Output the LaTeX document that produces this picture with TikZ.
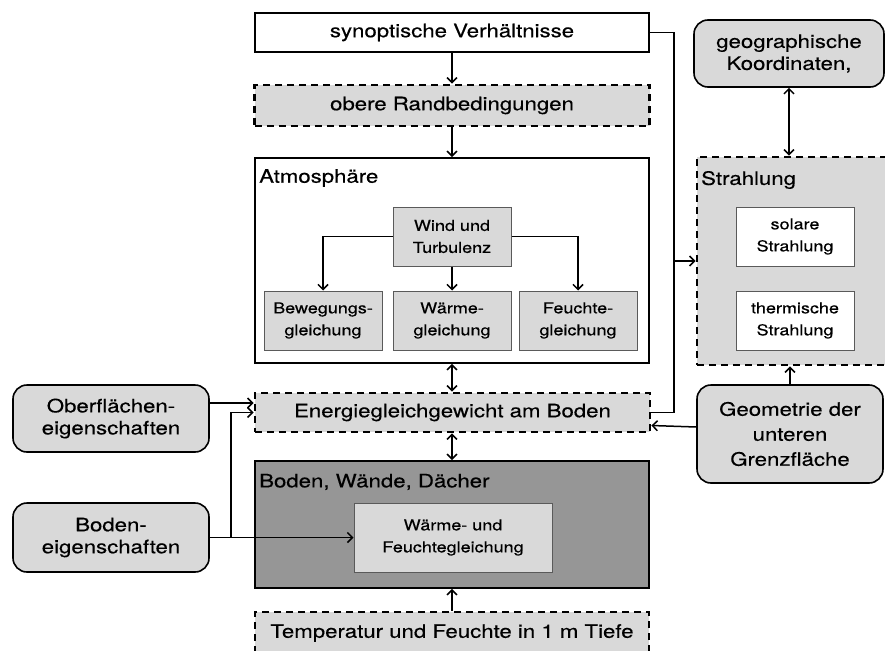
\documentclass[tikz,border=0pt]{standalone}
\usepackage{fontspec}
\usetikzlibrary{arrows.meta}
\setmainfont[FakeStretch=1.2,FakeBold=0.4]{TeX Gyre Heros}
\definecolor{lightfill}{RGB}{217,217,217}
\definecolor{darkfill}{RGB}{150,150,150}
\definecolor{edgegray}{RGB}{90,90,90}
\newcommand{\bigtxt}{\fontsize{18.5}{22}\selectfont}
\newcommand{\smalltxt}{\fontsize{15}{22}\selectfont}

\begin{document}
\begin{tikzpicture}[x=1pt,y=-1pt,>={Straight Barb[length=5pt,width=10pt]},
  box/.style={draw,line width=1.8pt,inner sep=0pt,font=\bigtxt},
  dashbox/.style={draw,line width=2.8pt,dash pattern=on 7pt off 5pt,fill=lightfill,inner sep=0pt,font=\bigtxt},
  roundbox/.style={draw,line width=1.6pt,rounded corners=14pt,fill=lightfill,inner sep=0pt,align=center,font=\bigtxt},
  inbox/.style={draw=edgegray,line width=1pt,fill=lightfill,minimum width=118pt,minimum height=59pt,inner sep=0pt,align=center,font=\smalltxt},
  tag/.style={anchor=west,inner sep=0pt,font=\bigtxt},
  arr/.style={->,line width=1.5pt}]
\useasboundingbox (0,0) rectangle (885,650);
\clip (0,0) rectangle (885,650);

% Atmosphere column
\node[box,minimum width=394pt,minimum height=39pt] (syn) at (452,32.5) {synoptische Verhältnisse};
\node[dashbox,minimum width=395pt,minimum height=41pt] (obere) at (452,105.5) {obere Randbedingungen};
\node[box,minimum width=394pt,minimum height=205pt] (atmo) at (452,260.5) {};
\node[tag] (atmolabel) at (259,178) {Atmosphäre};
\node[inbox] (wind) at (452,236.5) {Wind und\\Turbulenz};
\node[inbox] (beweg) at (323,320.5) {Bewegungs-\\gleichung};
\node[inbox] (waerme) at (452,320.5) {Wärme-\\gleichung};
\node[inbox] (feuchte) at (578,320.5) {Feuchte-\\gleichung};

% Ground
\node[dashbox,minimum width=395pt,minimum height=39pt] (energie) at (452.5,412.5) {Energiegleichgewicht am Boden};
\node[box,fill=darkfill,minimum width=394pt,minimum height=127pt] (boden) at (452,524.5) {};
\node[tag] (bodenlabel) at (259,482) {Boden, Wände, Dächer};
\node[inbox,minimum width=198pt,minimum height=69pt] (bodengl) at (453,537.5) {Wärme- und\\Feuchtegleichung};
\node[dashbox,minimum width=394pt,minimum height=42pt] (temp) at (452,633) {Temperatur und Feuchte in 1 m Tiefe};

% Inputs left
\node[roundbox,minimum width=196pt,minimum height=67pt] (oberfl) at (111,418.5) {Oberflächen-\\eigenschaften};
\node[roundbox,minimum width=196pt,minimum height=69pt] (bodeneig) at (111,537.5) {Boden-\\eigenschaften};

% Radiation right
\node[roundbox,minimum width=190pt,minimum height=67pt] (geo) at (789,53.5) {geographische\\Koordinaten,};
\node[dashbox,minimum width=189pt,minimum height=208pt] (strahl) at (791.5,261) {};
\node[tag] (strahllabel) at (701,180) {Strahlung};
\node[inbox,fill=white] (solar) at (795,236.5) {solare\\Strahlung};
\node[inbox,fill=white] (therm) at (795,320.5) {thermische\\Strahlung};
\node[roundbox,minimum width=186pt,minimum height=98pt] (geom) at (790,434) {Geometrie der\\[3pt]unteren\\[3pt]Grenzfläche};

% Arrows in the column
\draw[arr] (syn) -- (obere);
\draw[arr] (obere.south) -- (obere.south |- atmo.north);
\draw[arr] (wind.west) -| (beweg.north);
\draw[arr] (wind.east) -| (feuchte.north);
\draw[arr] (wind) -- (waerme);
\draw[arr,<->] (atmo.south) -- (atmo.south |- energie.north);
\draw[arr,<->] (boden.north |- energie.south) -- (boden.north);
\draw[arr] (temp) -- (boden);

% Left inputs
\coordinate (split) at (231,537.5);
\draw[arr] ([yshift=15.5pt]oberfl.east) -- ([yshift=9.5pt]energie.west);
\draw[arr] (bodeneig) -- (bodengl);
\draw[arr] (split) |- (energie.west);

% Right side
\coordinate (bus) at (674,412.5);
\draw[line width=1.5pt] (syn.east) -| (bus) -- (energie.east);
\draw[arr] (bus |- strahl.west) -- (strahl.west);
\draw[arr,<->] (geo.south) -- (geo.south |- strahl.north);
\draw[arr] (geom.north) -- (geom.north |- strahl.south);
\draw[arr] ([yshift=7pt]geom.west) -- ([yshift=-13pt]energie.east);
\end{tikzpicture}
\end{document}
